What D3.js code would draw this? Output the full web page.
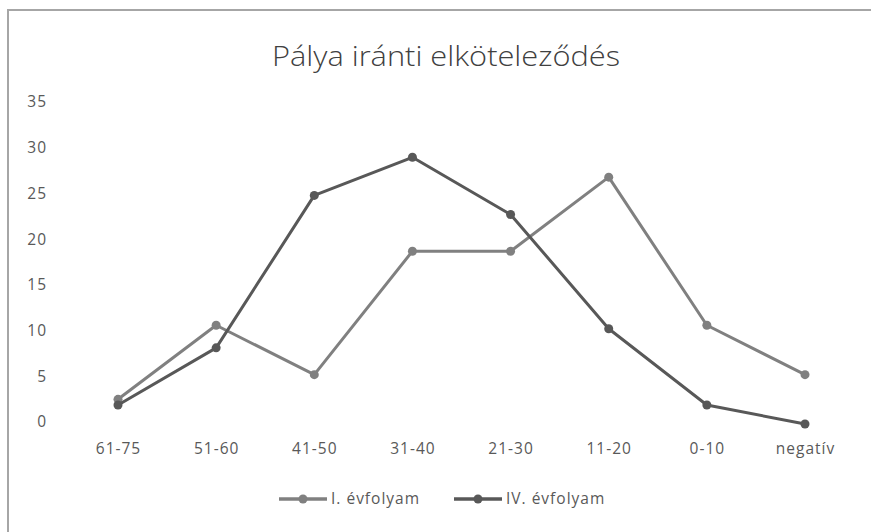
<!DOCTYPE html>
<html>
<head>
<meta charset="utf-8">
<script src="https://cdn.jsdelivr.net/npm/d3@7"></script>
<style>
  html, body { margin: 0; padding: 0; background: #fff; }
  svg { display: block; font-family: "Open Sans", "Liberation Sans", sans-serif; }
</style>
</head>
<body>
<svg id="chart" width="871" height="532"></svg>
<script>
const title = "Pálya iránti elköteleződés";
const categories = ["61-75", "51-60", "41-50", "31-40", "21-30", "11-20", "0-10", "negatív"];
const seriesNames = ["I. évfolyam", "IV. évfolyam"];
const seriesI = [2.7, 10.8, 5.4, 18.9, 18.9, 27.0, 10.8, 5.4];
const seriesIV = [2.08, 8.33, 25.0, 29.17, 22.92, 10.42, 2.08, 0];
const yTicks = [0, 5, 10, 15, 20, 25, 30, 35];
const colors = ["#808080", "#585858"];

const svg = d3.select("#chart");
const W = 871, H = 532;

// frame
svg.append("rect").attr("x", 8).attr("y", 10).attr("width", W + 10).attr("height", H + 10)
  .attr("fill", "#fff").attr("stroke", "#a6a6a6").attr("stroke-width", 2);

const x = d3.scalePoint().domain(categories).range([118, 805]);
const y = d3.scaleLinear().domain([0, 35]).range([424, 104]);

svg.append("text").attr("x", 446).attr("y", 66).attr("text-anchor", "middle")
  .attr("font-size", 27).attr("fill", "#404040").attr("font-weight", 300)
  .attr("textLength", 348).attr("lengthAdjust", "spacingAndGlyphs").text(title);

const labelStyle = sel => sel.attr("font-size", 15.5).attr("fill", "#595959")
  .attr("letter-spacing", "1px").attr("font-family", "'Open Sans', sans-serif");

// y axis (labels only)
const yAxis = d3.axisLeft(y).tickValues(yTicks).tickSize(0).tickPadding(0);
const gy = svg.append("g").attr("transform", "translate(47,-2)").call(yAxis);
gy.select(".domain").remove();
gy.selectAll("text").call(labelStyle);

// x axis (labels only)
const xAxis = d3.axisBottom(x).tickSize(0).tickPadding(0);
const gx = svg.append("g").attr("transform", "translate(0,443)").call(xAxis);
gx.select(".domain").remove();
gx.selectAll("text").call(labelStyle);

const line = d3.line().x((d, i) => x(categories[i])).y(d => y(d));
const allSeries = [seriesI, seriesIV];
allSeries.forEach((s, k) => {
  svg.append("path").datum(s).attr("d", line).attr("fill", "none")
    .attr("stroke", colors[k]).attr("stroke-width", 3).attr("stroke-linejoin", "round");
  svg.selectAll(null).data(s).enter().append("circle")
    .attr("cx", (d, i) => x(categories[i])).attr("cy", d => y(d)).attr("r", 4.5)
    .attr("fill", colors[k]);
});

// legend
const legendX = [279, 454];
seriesNames.forEach((n, k) => {
  const g = svg.append("g").attr("transform", `translate(${legendX[k]},499)`);
  g.append("line").attr("x1", 0).attr("x2", 48).attr("y1", 0).attr("y2", 0)
    .attr("stroke", colors[k]).attr("stroke-width", 3.5);
  g.append("circle").attr("cx", 24).attr("cy", 0).attr("r", 4.5).attr("fill", colors[k]);
  g.append("text").attr("x", 52).attr("y", 0).attr("dy", "0.35em").call(labelStyle).text(n);
});
</script>
</body>
</html>
